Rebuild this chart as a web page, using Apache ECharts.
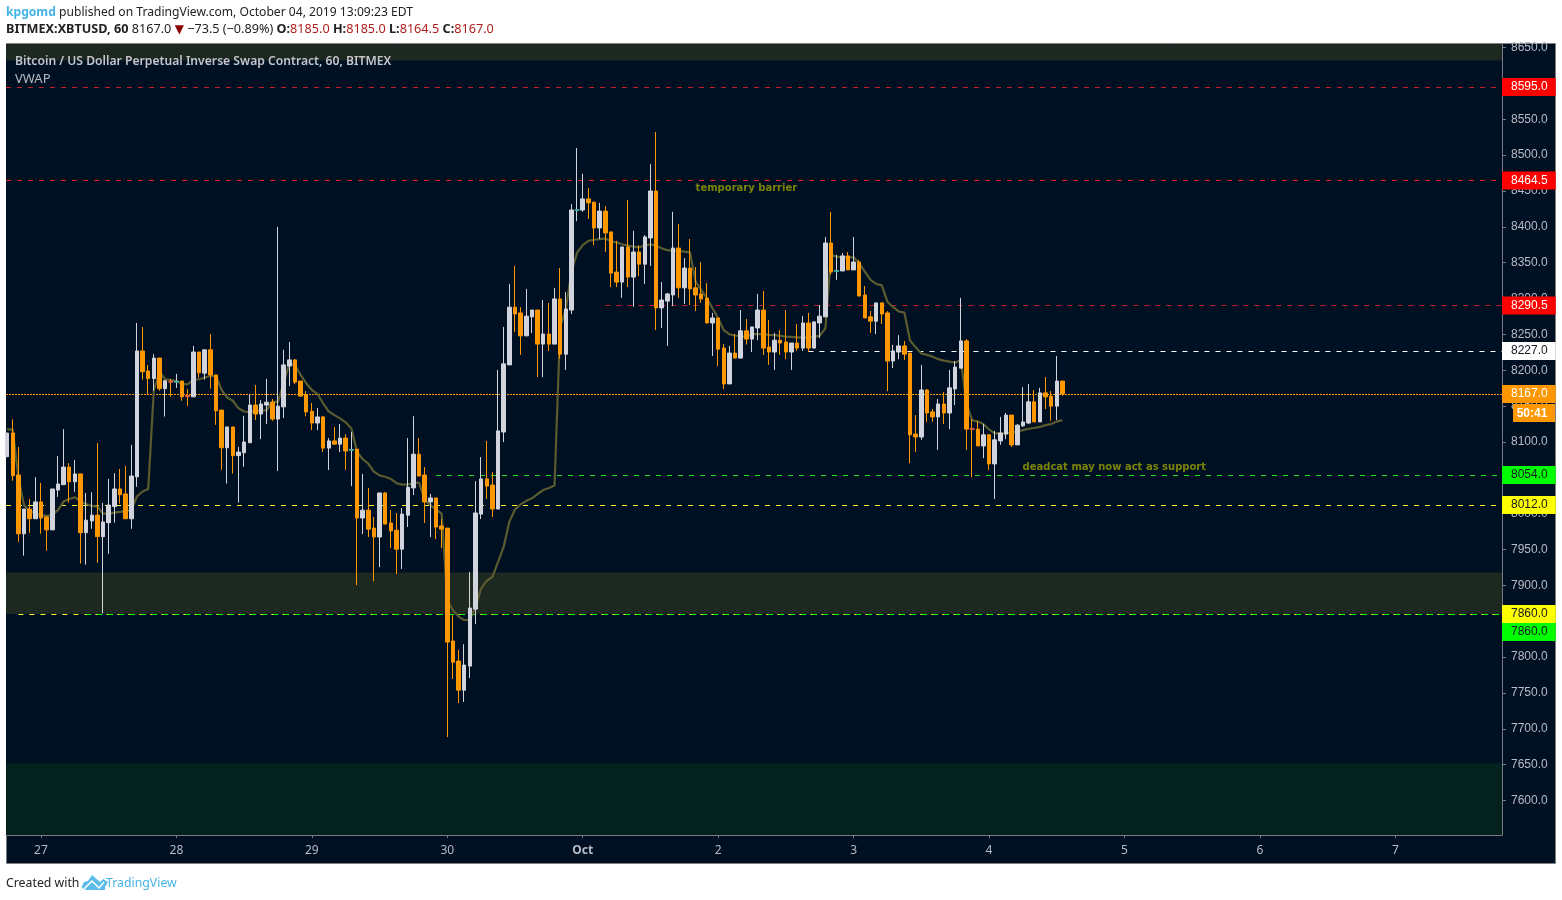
<!DOCTYPE html>
<html>
<head>
<meta charset="utf-8">
<title>XBTUSD 60</title>
<style>html,body{margin:0;padding:0;background:#fff;overflow:hidden}#chart{width:1562px;height:900px}</style>
<script src="https://cdn.jsdelivr.net/npm/echarts@6/dist/echarts.min.js"></script>
</head>
<body>
<div id="chart"></div>
<script>
// Hour 0 is 27 Sep 00:00; one candle per hour, first candle at hour -6.
const firstHour = -6;
const opens = [
8079.5,8112.5,8054,7972,8006.5,7993,8016.5,7995.5,7977.5,8033,
8040.5,8065,8044.5,8055.5,7973.5,7990,7998,7968,7987.5,8010,
8034.5,8027.5,7993,8051.5,8227,8199,8188.5,8217,8174.5,8184.5,
8184,8185,8164.5,8163,8225.5,8196,8228.5,8193.5,8144.5,8092,
8121,8081,8085,8099,8151.5,8139,8151.5,8155.5,8132,8149,
8206,8214.5,8185,8165.5,8143,8126.5,8135,8091.5,8101.5,8097,
8105.5,8089,8090,7994,8005,7980,7967.5,8029,7987,7977,
7950.5,7998,8036,8083,8054,8016.5,8022,7983,7980,7822.5,
7794.5,7754,7787.5,7867,7999.5,8048.5,8040,8006.5,8114,8207.5,
8288,8280,8248,8274.5,8284,8236.5,8250.5,8236.5,8299.5,8222.5,
8284,8423.5,8423.5,8439,8434.5,8398.5,8422,8393,8337,8323,
8372,8330,8365,8348,8384.5,8450,8287,8296.5,8305,8370.5,
8315,8342.5,8315,8306.5,8300.5,8266,8273,8231,8181,8224,
8217,8255,8243.5,8259,8284,8232.5,8225.5,8242,8239.5,8225.5,
8238,8231,8266,8231,8266,8274.5,8377.5,8338.5,8338.5,8359.5,
8340,8351,8305,8274.5,8268.5,8294,8280,8213,8225.5,8234,
8224,8111,8107,8172.5,8142,8135,8153,8140.5,8174,8203,
8241,8118.5,8118,8094.5,8110,8069.5,8101.5,8111,8137.5,8096,
8122.5,8126.5,8156,8128,8168.5,8164,8150,8185];
const closes = [
8112.5,8053,7972,8006.5,7993,8016.5,7994,7977.5,8034.5,8041.5,
8065,8044.5,8055.5,7973.5,7991,7998,7968,7988.5,8012,8034.5,
8026.5,7993,8052.5,8227,8198,8188.5,8217,8174.5,8185.5,8184,
8184.5,8163,8164,8225.5,8196.5,8228.5,8193.5,8143.5,8092,8121,
8081,8086,8100,8151.5,8139,8153,8155.5,8132,8150,8207.5,
8214.5,8183.5,8164,8142,8126.5,8135,8091.5,8101.5,8097,8105.5,
8087.5,8089.5,7994,8005,7978.5,7967.5,8029,7985.5,7976,7950.5,
7999.5,8037,8083,8052.5,8016.5,8022,7981.5,7978.5,7821,7793,
7754,7789,7868.5,8001,8048.5,8038.5,8006.5,8115.5,8209,8288,
8278.5,8248,8275.5,8284,8236.5,8250.5,8236.5,8299.5,8222.5,8285.5,
8423.5,8424,8439,8433.5,8398.5,8422,8391.5,8335.5,8323,8372,
8330,8365,8348,8386,8450,8287,8298,8306.5,8370.5,8315,
8342.5,8313.5,8305,8299.5,8266,8273,8229.5,8181,8224,8217,
8255,8243.5,8260.5,8284,8231,8225.5,8242,8238,8225.5,8238,
8231,8266,8231,8267.5,8275.5,8377.5,8337,8339,8359.5,8340,
8351,8303.5,8273,8268.5,8294,8278.5,8213,8227,8234,8222.5,
8110,8107,8172.5,8140.5,8135,8153,8140.5,8175.5,8204.5,8241,
8118,8118,8094.5,8110,8069.5,8103,8112.5,8137.5,8096,8123.5,
8128,8156,8128,8168.5,8163,8150,8185,8167];
const highs = [
8112.5,8131.5,8093,8006.5,8020.5,8051,8043,7995.5,8034.5,8080.5,
8118,8070.5,8075,8055.5,8029,8030,8098.5,8015,8048.5,8056.5,
8062.5,8066.5,8096,8266,8260.5,8207.5,8222.5,8217,8185.5,8188,
8195,8185,8174,8234,8225.5,8228.5,8250.5,8193.5,8144.5,8121,
8121,8093,8136.5,8165.5,8179.5,8158.5,8188,8160,8400,8228.5,
8239.5,8215.5,8185,8171,8154.5,8147.5,8136,8105.5,8121,8125,
8111,8114,8090,8055.5,8036,7995.5,8029,8030,8005,8001,
8008,8105.5,8136,8105.5,8065,8027.5,8022,7992.5,7980,7858.5,
7810,7818,7918.5,8045.5,8079,8101.5,8058,8200.5,8260.5,8320.5,
8345.5,8288,8313.5,8284,8284,8298,8294,8315,8342.5,8309,
8432,8510,8474,8454,8434.5,8433.5,8429,8393,8380.5,8372,
8437.5,8394.5,8374.5,8388.5,8487.5,8532.5,8323,8308,8421,8404,
8356.5,8383,8344,8351,8321.5,8280,8273,8236.5,8234,8250.5,
8284,8271.5,8260.5,8306.5,8310.5,8270,8252,8256,8284,8238,
8264.5,8275.5,8280,8267.5,8291,8386,8421,8361,8363.5,8365,
8386,8354,8317.5,8282.5,8294,8295,8282.5,8235.5,8249,8241,
8224,8137.5,8207.5,8174,8146,8160,8169.5,8200.5,8213,8301,
8243.5,8132,8129.5,8125,8111,8115.5,8135,8140.5,8137.5,8125,
8176.5,8181,8172.5,8175.5,8190.5,8171,8220,8185];
const lows = [
8079.5,8046,7961,7941.5,7973.5,7993,7972,7948.5,7977.5,8023.5,
8040.5,8015.5,8030.5,7930.5,7929,7979,7931.5,7861,7944,7987.5,
8014,7993,7979,8037.5,8187,8167,8171.5,8171.5,8135.5,8163,
8175.5,8157.5,8150.5,8163,8189.5,8187,8174.5,8124,8061.5,8042,
8056,8015.5,8065.5,8099,8130.5,8104,8125,8129.5,8059.5,8133.5,
8178,8181,8164,8136,8116.5,8116.5,8086,8061,8097,8086,
8061,8038.5,7900.5,7971.5,7967.5,7906,7925.5,7985.5,7952,7916,
7923,7981.5,8026,8052.5,7987,7967.5,7964.5,7952,7688.5,7769.5,
7736,7737.5,7771,7846,7992.5,8020.5,7995.5,8006.5,8100,8207.5,
8253.5,8221.5,8248,8252,8190.5,8190.5,8227,8236.5,8216,8200.5,
8278.5,8408,8421,8411,8374.5,8383,8365,8316,8316,8301,
8316,8288.5,8331.5,8320.5,8345.5,8256,8259,8234,8289.5,8301,
8292.5,8291,8282.5,8294,8266,8220,8206,8174,8181,8217,
8217,8236,8225.5,8242,8221.5,8207.5,8200.5,8221.5,8215.5,8200.5,
8227,8227,8225.5,8231,8245,8274.5,8333,8326,8338.5,8340,
8340,8303.5,8273,8252,8250.5,8264.5,8171,8203,8215.5,8214.5,
8070.5,8086,8103,8128,8128,8089,8125,8118,8151.5,8203,
8089,8051,8094.5,8077.5,8061,8020.5,8096,8104,8093,8096,
8121,8125,8128,8128,8146,8129.5,8130.5,8164.5];
const vwap = [
8118,8117,8050,8012,8004,8000,7998,7997,7998,8005,
8017,8020.5,8023,8017,8013.5,8011,8010,8000,8000,8001.5,
8002.5,8003.5,8005,8024,8031,8034.5,8172.5,8198,8187.5,8186.5,
8185,8181,8180.5,8186.5,8187.5,8190,8192,8192,8172.5,8162,
8157.5,8147,8142.5,8141.5,8143.5,8143.5,8144.5,8156,8156,8182,
8209.5,8207.5,8193.5,8182,8172.5,8167,8154,8142.5,8137.5,8133,
8127.5,8119,8086.5,8076,8070,8058.5,8053.5,8051.5,8048.5,8042.5,
8040.5,8041,8042.5,8043.5,8019,8012,8006,8000,7880,7865.5,
7856.5,7851.5,7852.5,7870,7896,7906.5,7912,7933,7954,7989,
8006,8013,8018,8021.5,8027.5,8033,8036,8039.5,8260,8285,
8337,8364,8374.5,8380.5,8382,8383,8384,8379.5,8378.5,8375.5,
8374,8372.5,8371.5,8374,8375.5,8374,8370,8367.5,8366.5,8366.5,
8365.5,8364.5,8323.5,8312,8300.5,8286.5,8272.5,8256,8250,8248.5,
8247.5,8247,8250.5,8250.5,8250.5,8249.5,8249,8248,8247,8246.5,
8246,8245.5,8246,8247,8248,8258.5,8361,8358.5,8357.5,8357.5,
8357.5,8349,8337.5,8326,8320.5,8318.5,8295.5,8288,8282,8280.5,
8241.5,8232,8223.5,8221.5,8219,8215.5,8213.5,8212,8210.5,8214.5,
8154,8130.5,8128.5,8125,8117.5,8112,8112,8112,8113,8114.5,
8116.5,8118.5,8119.5,8121,8123.5,8125,8128.5,8130.5];

// Flat candles whose small body is coloured differently
const dojiHours  = [23, 24, 26, 55, 95, 141, 165];
const dojiPrices = [8184, 8184, 8164, 8089, 8423.5, 8338.5, 8118];
const dojiKinds  = ['down','up','down','up','up','up','down'];

// Axis
const dayHours  = [0, 24, 48, 72, 96, 120, 144, 168, 192, 216, 240];
const dayLabels = ['27','28','29','30','Oct','2','3','4','5','6','7'];
const priceTicks = [7600,7650,7700,7750,7800,7850,7900,7950,8000,8050,8100,8150,8200,8250,8300,8350,8400,8450,8500,8550,8600,8650];

// Horizontal levels
const levelPrices = [8595, 8464.5, 8290.5, 8227, 8167, 8054, 8012, 7860, 7860];
const levelStart  = [null, null, 100, 136, null, 70, null, -4, 8];

// Shaded zones [from, to]
const zoneLow = [8632, 7860, 7552];
const zoneHigh = [8656, 7918, 7652];

// Notes
const noteTexts = ['temporary barrier', 'deadcat may now act as support'];
const noteHours = [125, 190.2];
const notePrices = [8454, 8065];

const levelStyles = [
 {c:'#c2202a', d:[5,6], bg:'#ff0000', fg:'#ffffff'},
 {c:'#e01f1f', d:[5,6], bg:'#ff0000', fg:'#ffffff'},
 {c:'#c2202a', d:[5,6], bg:'#ff0000', fg:'#ffffff'},
 {c:'#ffffff', d:[5,6], bg:'#ffffff', fg:'#131722'},
 {c:'#ff9800', d:[2,1], bg:'#ff9800', fg:'#ffffff'},
 {c:'#1fe01f', d:[5,6], bg:'#00ff00', fg:'#131722'},
 {c:'#ffff33', d:[5,6], bg:'#ffff00', fg:'#131722'},
 {c:'#ffff33', d:[5,6], bg:'#ffff00', fg:'#131722'},
 {c:'#00ff00', d:[5,6], bg:'#00ff00', fg:'#131722', off:18}
];

const hourMin = -6.2, hourMax = 258.9;
const hourOf = i => firstHour + i;
const candleData = opens.map((o, i) => [hourOf(i), o, closes[i], lows[i], highs[i]]);
const vwapData = vwap.map((v, i) => [hourOf(i), v]);

const levelLines = levelPrices.map((p, i) => {
  const s = levelStyles[i];
  return [{
    coord: [levelStart[i] === null ? hourMin : levelStart[i], p],
    lineStyle: {color: s.c, type: s.d, width: 1},
    label: {show: true, position: 'end', distance: 0, formatter: p.toFixed(1),
      color: s.fg, backgroundColor: s.bg, padding: [4, 8, 2, 9],
      fontFamily: 'Liberation Sans', fontSize: 12, offset: [0, s.off || 0]}
  }, {coord: [hourMax, p]}];
});

const chart = echarts.init(document.getElementById('chart'), null, {renderer: 'canvas'});
const textFont = '"Noto Sans", sans-serif';
chart.setOption({
  animation: false,
  backgroundColor: '#ffffff',
  grid: {left: 6, right: 60, top: 44, height: 791, show: true, backgroundColor: '#001023', borderWidth: 0},
  xAxis: {
    type: 'value', min: hourMin, max: hourMax, splitLine: {show: false},
    axisLine: {onZero: false, lineStyle: {color: '#787b86'}},
    axisTick: {customValues: dayHours, length: 3, lineStyle: {color: '#787b86'}},
    axisLabel: {customValues: dayHours, margin: 10, color: '#b8bbc4', fontFamily: textFont, fontSize: 12,
      hideOverlap: false,
      formatter: v => {
        const t = dayLabels[dayHours.indexOf(v)];
        return t === 'Oct' ? '{b|Oct}' : t;
      },
      rich: {b: {fontWeight: 'bold', color: '#b8bbc4', fontFamily: textFont, fontSize: 12}}}
  },
  yAxis: {
    type: 'value', position: 'right', min: 7552, max: 8655, splitLine: {show: false}, scale: true,
    axisLine: {show: true, onZero: false, lineStyle: {color: '#787b86'}},
    axisTick: {show: true, customValues: priceTicks, length: 4, lineStyle: {color: '#787b86'}},
    axisLabel: {customValues: priceTicks, margin: 9, color: '#b8bbc4', fontFamily: 'Liberation Sans', fontSize: 12,
      padding: [4, 0, 0, 0],
      showMinLabel: true, showMaxLabel: true, hideOverlap: false, formatter: v => v.toFixed(1)}
  },
  series: [
    {
      type: 'line', name: 'VWAP', data: vwapData, z: 2, showSymbol: false, symbol: 'none', silent: true,
      lineStyle: {color: '#5a5b2e', width: 2.2},
      markArea: {
        silent: true, z: 1,
        data: zoneLow.map((lo, i) => [
          {yAxis: zoneHigh[i], itemStyle: {opacity: 1, color: i === 2 ? '#03221d' : '#1c2820'}},
          {yAxis: lo}
        ])
      },
      markLine: {silent: true, symbol: 'none', z: 1, animation: false, data: levelLines}
    },
    {
      type: 'candlestick', name: 'XBTUSD', data: candleData, z: 3, barWidth: 4, silent: true, clip: true,
      itemStyle: {color: '#d1d4dc', color0: '#ff9800', borderColor: '#d1d4dc', borderColor0: '#ff9800', borderWidth: 1}
    },
    {
      type: 'scatter', name: 'flat', z: 4, silent: true, symbol: 'rect', symbolSize: [5, 2],
      data: dojiHours.map((h, i) => ({value: [h, dojiPrices[i]],
        itemStyle: {color: dojiKinds[i] === 'down' ? '#ef5350' : '#26a69a'}}))
    },
    {
      type: 'scatter', name: 'notes', z: 5, silent: true, symbolSize: 0,
      data: noteTexts.map((t, i) => ({value: [noteHours[i], notePrices[i]],
        label: {show: true, position: 'inside', formatter: t, color: '#9aa000',
          fontFamily: 'DejaVu Sans', fontWeight: 'bold', fontSize: 10}}))
    }
  ],
  graphic: [
    {type: 'rect', z: -1, silent: true, shape: {x: 6.5, y: 43.5, width: 1549, height: 820},
      style: {fill: '#001023', stroke: '#808080', lineWidth: 1}},
    {type: 'text', z: 100, silent: true, x: 6, y: 7, style: {
      text: '{a|kpgomd} {b|published on TradingView.com, October 04, 2019 13:09:23 EDT}',
      rich: {a: {fill: '#45b3e7', fontFamily: textFont, fontSize: 12.1, fontWeight: 'bold'},
             b: {fill: '#222222', fontFamily: textFont, fontSize: 12.1}}}},
    {type: 'text', z: 100, silent: true, x: 6, y: 23, style: {
      text: '{k|BITMEX:XBTUSD, 60} {b|8167.0} {t|▼} {b|−73.5 (−0.89%)} {k|O:}{r|8185.0} {k|H:}{r|8185.0} {k|L:}{r|8164.5} {k|C:}{r|8167.0}',
      rich: {k: {fill: '#222222', fontFamily: textFont, fontSize: 12.65, fontWeight: 'bold'},
             b: {fill: '#222222', fontFamily: textFont, fontSize: 12.65},
             t: {fill: '#8b0000', fontFamily: 'DejaVu Sans', fontSize: 12},
             r: {fill: '#b01c1c', fontFamily: textFont, fontSize: 12.65}}}},
    {type: 'text', z: 100, silent: true, x: 15, y: 56, style: {
      text: 'Bitcoin / US Dollar Perpetual Inverse Swap Contract, 60, BITMEX',
      fill: '#c4c6cc', font: '600 12.15px "Noto Sans"'}},
    {type: 'text', z: 100, silent: true, x: 15, y: 73, style: {
      text: 'VWAP', fill: '#b8bbc4', font: '13px "Noto Sans"'}},
    {type: 'rect', z: 100, silent: true, shape: {x: 1513, y: 404, width: 42, height: 18}, style: {fill: '#ff9800'}},
    {type: 'text', z: 101, silent: true, x: 1532, y: 414, style: {
      text: '50:41', fill: '#ffffff', font: 'bold 12px "Liberation Sans"', align: 'center', verticalAlign: 'middle'}},
    {type: 'text', z: 100, silent: true, x: 6, y: 877, style: {
      text: 'Created with', fill: '#222222', font: '12.3px "Noto Sans"'}},
    {type: 'polygon', z: 100, silent: true, shape: {points: [[82,886],[84,882],[88,881],[92,875],[100,882],[103,879],[108,882],[105,887],[105,890],[86,890],[82,888]]},
      style: {fill: '#5bbcea'}},
    {type: 'polyline', z: 101, silent: true, shape: {points: [[84,889],[92,881],[99,888],[104,882]]},
      style: {fill: null, stroke: '#ffffff', lineWidth: 1.5}},
    {type: 'text', z: 100, silent: true, x: 106, y: 877, style: {
      text: 'TradingView', fill: '#45b3e7', font: '12.3px "Noto Sans"'}}
  ]
});
</script>
</body>
</html>
